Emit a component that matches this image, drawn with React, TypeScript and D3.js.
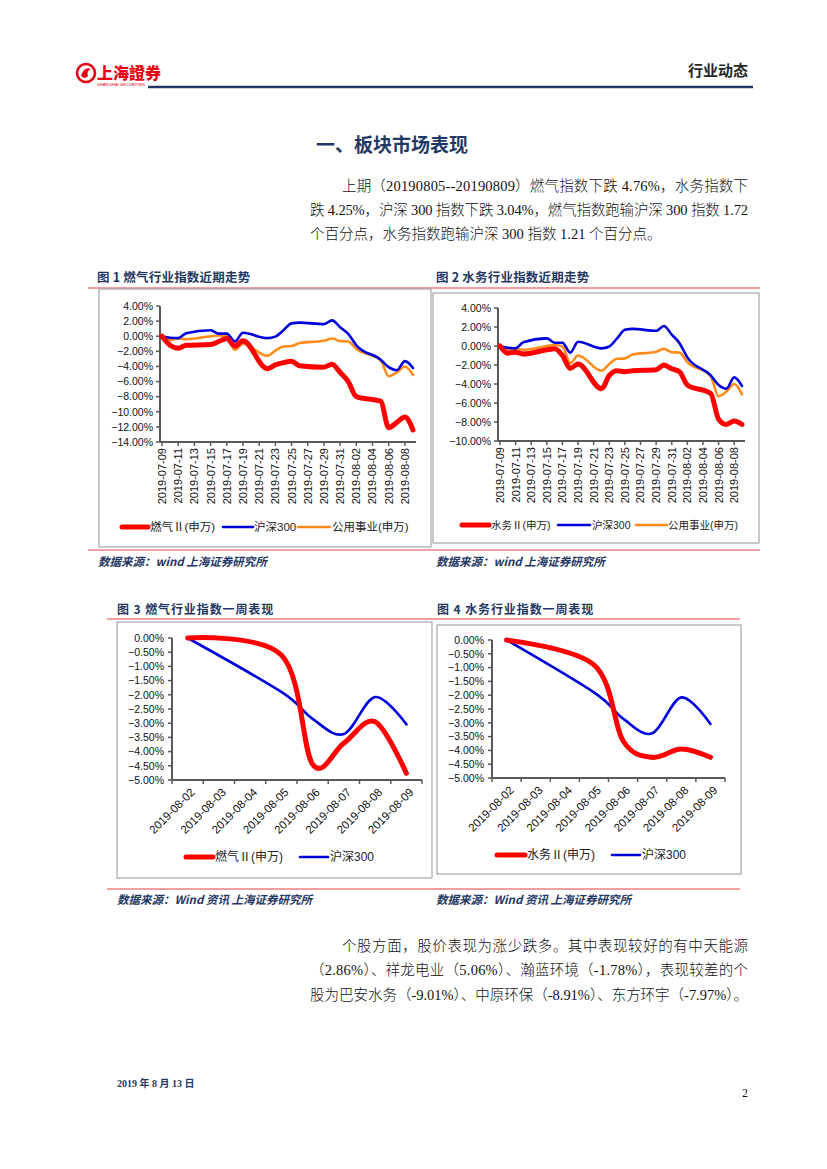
import React from 'react';
import * as d3 from 'd3';

// trading days shown in the 1-month charts
const longDates = [
  '2019-07-09', '2019-07-10', '2019-07-11', '2019-07-12', '2019-07-15', '2019-07-16',
  '2019-07-17', '2019-07-18', '2019-07-19', '2019-07-22', '2019-07-23', '2019-07-24',
  '2019-07-25', '2019-07-26', '2019-07-29', '2019-07-30', '2019-07-31', '2019-08-01',
  '2019-08-02', '2019-08-05', '2019-08-06', '2019-08-07', '2019-08-08', '2019-08-09',
];
// cumulative change, %
const gasLong = [0, -1.2, -1.6, -1.2, -1.1, -0.7, -0.3, -1.3, -0.6, -4.3, -3.8, -3.5, -3.3, -3.9, -4.1, -3.7, -4.8, -6.0, -8.0, -8.6, -12.1, -11.4, -10.7, -12.4];
const waterLong = [0, -0.75, -0.65, -0.85, -0.4, -0.3, -1.0, -2.35, -1.9, -4.5, -3.1, -2.6, -2.7, -2.6, -2.5, -2.0, -2.4, -2.7, -4.1, -5.0, -7.7, -8.25, -7.9, -8.25];
const hs300Long = [0, -0.2, -0.25, 0.4, 0.8, 0.35, 0.35, -0.7, 0.45, -0.25, -0.05, 0.8, 1.7, 1.8, 1.6, 2.1, 1.2, 0.3, -1.2, -3.1, -4.1, -4.5, -3.3, -4.2];
const utilLong = [0, -0.5, -0.3, -0.4, 0, 0.1, -0.05, -1.8, -1.0, -2.6, -1.9, -1.35, -1.3, -0.9, -0.6, -0.3, -0.65, -0.7, -1.7, -3.2, -5.3, -4.8, -4.0, -5.1];
const longTickDates = [
  '2019-07-09', '2019-07-11', '2019-07-13', '2019-07-15', '2019-07-17', '2019-07-19',
  '2019-07-21', '2019-07-23', '2019-07-25', '2019-07-27', '2019-07-29', '2019-07-31',
  '2019-08-02', '2019-08-04', '2019-08-06', '2019-08-08',
];
const gasLongTicks = [4, 2, 0, -2, -4, -6, -8, -10, -12, -14];
const waterLongTicks = [4, 2, 0, -2, -4, -6, -8, -10];

// one-week charts
const weekCategories = ['2019-08-02', '2019-08-03', '2019-08-04', '2019-08-05', '2019-08-06', '2019-08-07', '2019-08-08', '2019-08-09'];
const weekDates = ['2019-08-02', '2019-08-05', '2019-08-06', '2019-08-07', '2019-08-08', '2019-08-09'];
const gasWeek = [0, -0.6, -4.45, -3.7, -2.95, -4.76];
const waterWeek = [0, -0.9, -3.65, -4.25, -3.95, -4.25];
const hs300Week = [0, -1.9, -2.85, -3.38, -2.08, -3.04];
const weekTicks = [0, -0.5, -1, -1.5, -2, -2.5, -3, -3.5, -4, -4.5, -5];

const RED = '#FF0000';
const BLUE = '#0000DD';
const ORANGE = '#FF8C1A';
const NAVY = '#1F3864';
const AXIS = '#595959';
const FRAME = '#A6A6A6';
const SANS = "'Liberation Sans', Arial, 'Noto Sans CJK SC', sans-serif";
const CJK = "'Noto Sans CJK SC', sans-serif";
const BODY = "'Liberation Serif', 'Noto Sans CJK SC', serif";

const parse = d3.timeParse('%Y-%m-%d');
const pct = (v: number) => d3.format('.2f')(v) + '%';

type Series = { values: number[]; color: string; width: number };
type LegendItem = { label: string; color: string; width: number; lx: number; lw: number; tx: number };

function Legend({ items, y, size }: { items: LegendItem[]; y: number; size: number }) {
  return (
    <g>
      {items.map(it => (
        <g key={it.label}>
          <line x1={it.lx} x2={it.lx + it.lw} y1={y} y2={y} stroke={it.color} strokeWidth={it.width} strokeLinecap="round" />
          <text x={it.tx} y={y} dy="0.36em" fontSize={size} fontFamily={SANS} fill="#222">{it.label}</text>
        </g>
      ))}
    </g>
  );
}

function TrendChart({ xRange, yRange, yDomain, yTicks, series, legend, legendY, legendSize }: {
  xRange: [number, number]; yRange: [number, number]; yDomain: [number, number]; yTicks: number[];
  series: Series[]; legend: LegendItem[]; legendY: number; legendSize: number;
}) {
  const x = d3.scaleTime()
    .domain([parse(longDates[0])!, parse(longDates[longDates.length - 1])!])
    .range(xRange);
  const y = d3.scaleLinear().domain(yDomain).range(yRange);
  const line = d3.line<number>()
    .x((_, i) => x(parse(longDates[i])!))
    .y(d => y(d))
    .curve(d3.curveMonotoneX);
  const axisX = xRange[0] - 2;
  const axisEnd = xRange[1] + 3;
  const baseY = y(yDomain[0]);
  return (
    <g fontFamily={SANS}>
      <line x1={axisX} x2={axisX} y1={y(yDomain[1])} y2={baseY} stroke={AXIS} strokeWidth={2} />
      {yTicks.map(t => (
        <g key={t}>
          <line x1={axisX - 4} x2={axisX} y1={y(t)} y2={y(t)} stroke={AXIS} strokeWidth={1.5} />
          <text x={axisX - 7} y={y(t)} dy="0.36em" textAnchor="end" fontSize={10.5} fill="#111">{pct(t)}</text>
        </g>
      ))}
      <line x1={axisX} x2={axisEnd} y1={baseY} y2={baseY} stroke={AXIS} strokeWidth={2} />
      {longTickDates.map(d => {
        const px = x(parse(d)!);
        return (
          <g key={d}>
            <line x1={px} x2={px} y1={baseY} y2={baseY + 4} stroke={AXIS} strokeWidth={1.5} />
            <text transform={`translate(${px},${baseY + 6}) rotate(-90)`} dy="0.36em" textAnchor="end" fontSize={11} fill="#111">{d}</text>
          </g>
        );
      })}
      {series.map((s, i) => (
        <path key={i} d={line(s.values) || ''} fill="none" stroke={s.color} strokeWidth={s.width} strokeLinejoin="round" strokeLinecap="round" />
      ))}
      <Legend items={legend} y={legendY} size={legendSize} />
    </g>
  );
}

function WeekChart({ xRange, yRange, series, legend, legendY }: {
  xRange: [number, number]; yRange: [number, number]; series: Series[]; legend: LegendItem[]; legendY: number;
}) {
  const x = d3.scalePoint<string>().domain(weekCategories).range(xRange).padding(0.5);
  const y = d3.scaleLinear().domain([-5, 0]).range(yRange);
  const line = d3.line<number>()
    .x((_, i) => x(weekDates[i])!)
    .y(d => y(d))
    .curve(d3.curveCardinal.tension(0));
  const step = x.step();
  const baseY = y(-5);
  return (
    <g fontFamily={SANS}>
      <line x1={xRange[0]} x2={xRange[0]} y1={y(0)} y2={baseY} stroke={AXIS} strokeWidth={2} />
      {weekTicks.map(t => (
        <g key={t}>
          <line x1={xRange[0] - 4} x2={xRange[0]} y1={y(t)} y2={y(t)} stroke={AXIS} strokeWidth={1.5} />
          <text x={xRange[0] - 8} y={y(t)} dy="0.36em" textAnchor="end" fontSize={10.5} fill="#111">{pct(t)}</text>
        </g>
      ))}
      <line x1={xRange[0]} x2={xRange[1]} y1={baseY} y2={baseY} stroke={AXIS} strokeWidth={2} />
      {d3.range(weekCategories.length + 1).map(i => (
        <line key={i} x1={xRange[0] + i * step} x2={xRange[0] + i * step} y1={baseY} y2={baseY + 4} stroke={AXIS} strokeWidth={1.5} />
      ))}
      {weekCategories.map(d => (
        <text key={d} transform={`translate(${x(d)! + 5},${baseY + 10}) rotate(-45)`} dy="0.36em" textAnchor="end" fontSize={11.5} fill="#111">{d}</text>
      ))}
      {series.map((s, i) => (
        <path key={i} d={line(s.values) || ''} fill="none" stroke={s.color} strokeWidth={s.width} strokeLinejoin="round" strokeLinecap="round" />
      ))}
      <Legend items={legend} y={legendY} size={12} />
    </g>
  );
}

export default function App() {
  return (
    <div style={{ position: 'absolute', left: 0, top: 0 }}>
      <svg width={827} height={1169} viewBox="0 0 827 1169" style={{ display: 'block', background: '#fff' }}>
        {/* header */}
        <circle cx={86} cy={73} r={9} fill="none" stroke="#E60012" strokeWidth={2.6} />
        <path d="M81,76 Q84,66 91,69 Q86,71 88,76 Q85,80 81,76 Z" fill="#E60012" />
        <text x={97} y={79} fontSize={16} fontWeight={900} fill="#E60012" fontFamily="'Noto Sans CJK TC', sans-serif">上海證券</text>
        <text x={97} y={86} fontSize={4.2} fill="#E60012" fontFamily={SANS}>SHANGHAI SECURITIES</text>
        <text x={748} y={76} fontSize={15} fontWeight={700} textAnchor="end" fill="#262626" fontFamily={CJK}>行业动态</text>
        <line x1={148} x2={753} y1={87} y2={87} stroke={NAVY} strokeWidth={2.5} />

        <text x={316} y={152} fontSize={19} fontWeight={700} fill={NAVY} fontFamily={CJK}>一、板块市场表现</text>

        <g fontFamily={BODY} fontSize={14.5} fontWeight={300} fill="#111">
          <text x={342} y={191} textLength={406} lengthAdjust="spacing">上期（20190805--20190809）燃气指数下跌 4.76%，水务指数下</text>
          <text x={310} y={215} textLength={438} lengthAdjust="spacing">跌 4.25%，沪深 300 指数下跌 3.04%，燃气指数跑输沪深 300 指数 1.72</text>
          <text x={310} y={239}>个百分点，水务指数跑输沪深 300 指数 1.21 个百分点。</text>
        </g>

        {/* upper figures */}
        <g fontFamily={CJK} fontWeight={700} fontSize={12.5} fill={NAVY}>
          <text x={97} y={282} letterSpacing={0.2}>图 1 燃气行业指数近期走势</text>
          <text x={436} y={282} letterSpacing={0.2}>图 2 水务行业指数近期走势</text>
        </g>
        <line x1={88} x2={760} y1={288} y2={288} stroke="#E04040" strokeWidth={1} />
        <rect x={99} y={289} width={332} height={258} fill="none" stroke={FRAME} strokeWidth={1.2} />
        <rect x={433} y={293} width={326} height={250} fill="none" stroke={FRAME} strokeWidth={1.2} />
        <line x1={88} x2={760} y1={550} y2={550} stroke="#E04040" strokeWidth={1} />

        <TrendChart
          xRange={[162, 413]} yRange={[442, 306]} yDomain={[-14, 4]} yTicks={gasLongTicks}
          series={[
            { values: utilLong, color: ORANGE, width: 2.6 },
            { values: hs300Long, color: BLUE, width: 2.6 },
            { values: gasLong, color: RED, width: 5 },
          ]}
          legendY={527} legendSize={11.5}
          legend={[
            { label: '燃气Ⅱ(申万)', color: RED, width: 5, lx: 122, lw: 26, tx: 150 },
            { label: '沪深300', color: BLUE, width: 2.6, lx: 223, lw: 30, tx: 254 },
            { label: '公用事业(申万)', color: ORANGE, width: 2.6, lx: 298, lw: 32, tx: 332 },
          ]}
        />
        <TrendChart
          xRange={[500, 742]} yRange={[441, 308]} yDomain={[-10, 4]} yTicks={waterLongTicks}
          series={[
            { values: utilLong, color: ORANGE, width: 2.6 },
            { values: hs300Long, color: BLUE, width: 2.6 },
            { values: waterLong, color: RED, width: 5 },
          ]}
          legendY={525} legendSize={10.5}
          legend={[
            { label: '水务Ⅱ(申万)', color: RED, width: 5, lx: 462, lw: 27, tx: 491 },
            { label: '沪深300', color: BLUE, width: 2.6, lx: 558, lw: 32, tx: 592 },
            { label: '公用事业(申万)', color: ORANGE, width: 2.6, lx: 636, lw: 31, tx: 668 },
          ]}
        />

        <g fontFamily={CJK} fontWeight={700} fontStyle="italic" fontSize={11.5} fill={NAVY}>
          <text x={98} y={566}>数据来源：wind  上海证券研究所</text>
          <text x={436} y={566}>数据来源：wind  上海证券研究所</text>
        </g>

        {/* lower figures */}
        <g fontFamily={CJK} fontWeight={700} fontSize={12} fill={NAVY}>
          <text x={117} y={614} letterSpacing={0.9}>图 3 燃气行业指数一周表现</text>
          <text x={437} y={614} letterSpacing={0.9}>图 4 水务行业指数一周表现</text>
        </g>
        <line x1={107} x2={740} y1={619} y2={619} stroke="#E04040" strokeWidth={1} />
        <rect x={117} y={622} width={315} height={256} fill="none" stroke={FRAME} strokeWidth={1.2} />
        <rect x={437} y={625} width={304} height={249} fill="none" stroke={FRAME} strokeWidth={1.2} />
        <line x1={107} x2={740} y1={889} y2={889} stroke="#E04040" strokeWidth={1} />

        <WeekChart
          xRange={[172, 422]} yRange={[780, 638]}
          series={[
            { values: hs300Week, color: BLUE, width: 2.6 },
            { values: gasWeek, color: RED, width: 5 },
          ]}
          legendY={857}
          legend={[
            { label: '燃气Ⅱ(申万)', color: RED, width: 5, lx: 186, lw: 27, tx: 215 },
            { label: '沪深300', color: BLUE, width: 2.6, lx: 300, lw: 28, tx: 330 },
          ]}
        />
        <WeekChart
          xRange={[492, 725]} yRange={[778, 640]}
          series={[
            { values: hs300Week, color: BLUE, width: 2.6 },
            { values: waterWeek, color: RED, width: 5 },
          ]}
          legendY={855}
          legend={[
            { label: '水务Ⅱ(申万)', color: RED, width: 5, lx: 497, lw: 28, tx: 527 },
            { label: '沪深300', color: BLUE, width: 2.6, lx: 612, lw: 28, tx: 642 },
          ]}
        />

        <g fontFamily={CJK} fontWeight={700} fontStyle="italic" fontSize={11.5} fill={NAVY}>
          <text x={117} y={904}>数据来源：Wind 资讯  上海证券研究所</text>
          <text x={436} y={904}>数据来源：Wind 资讯  上海证券研究所</text>
        </g>

        <g fontFamily={BODY} fontSize={14.5} fontWeight={300} fill="#111">
          <text x={342} y={951} textLength={406} lengthAdjust="spacing">个股方面，股价表现为涨少跌多。其中表现较好的有中天能源</text>
          <text x={310} y={975} textLength={438} lengthAdjust="spacing">（2.86%）、祥龙电业（5.06%）、瀚蓝环境（-1.78%），表现较差的个</text>
          <text x={310} y={1000} textLength={438} lengthAdjust="spacing">股为巴安水务（-9.01%）、中原环保（-8.91%）、东方环宇（-7.97%）。</text>
        </g>

        <text x={117} y={1087} fontSize={10} fontWeight={700} fill={NAVY} fontFamily={BODY}>2019 年 8 月 13 日</text>
        <text x={748} y={1097} fontSize={12} textAnchor="end" fill="#111" fontFamily={BODY}>2</text>
      </svg>
    </div>
  );
}
